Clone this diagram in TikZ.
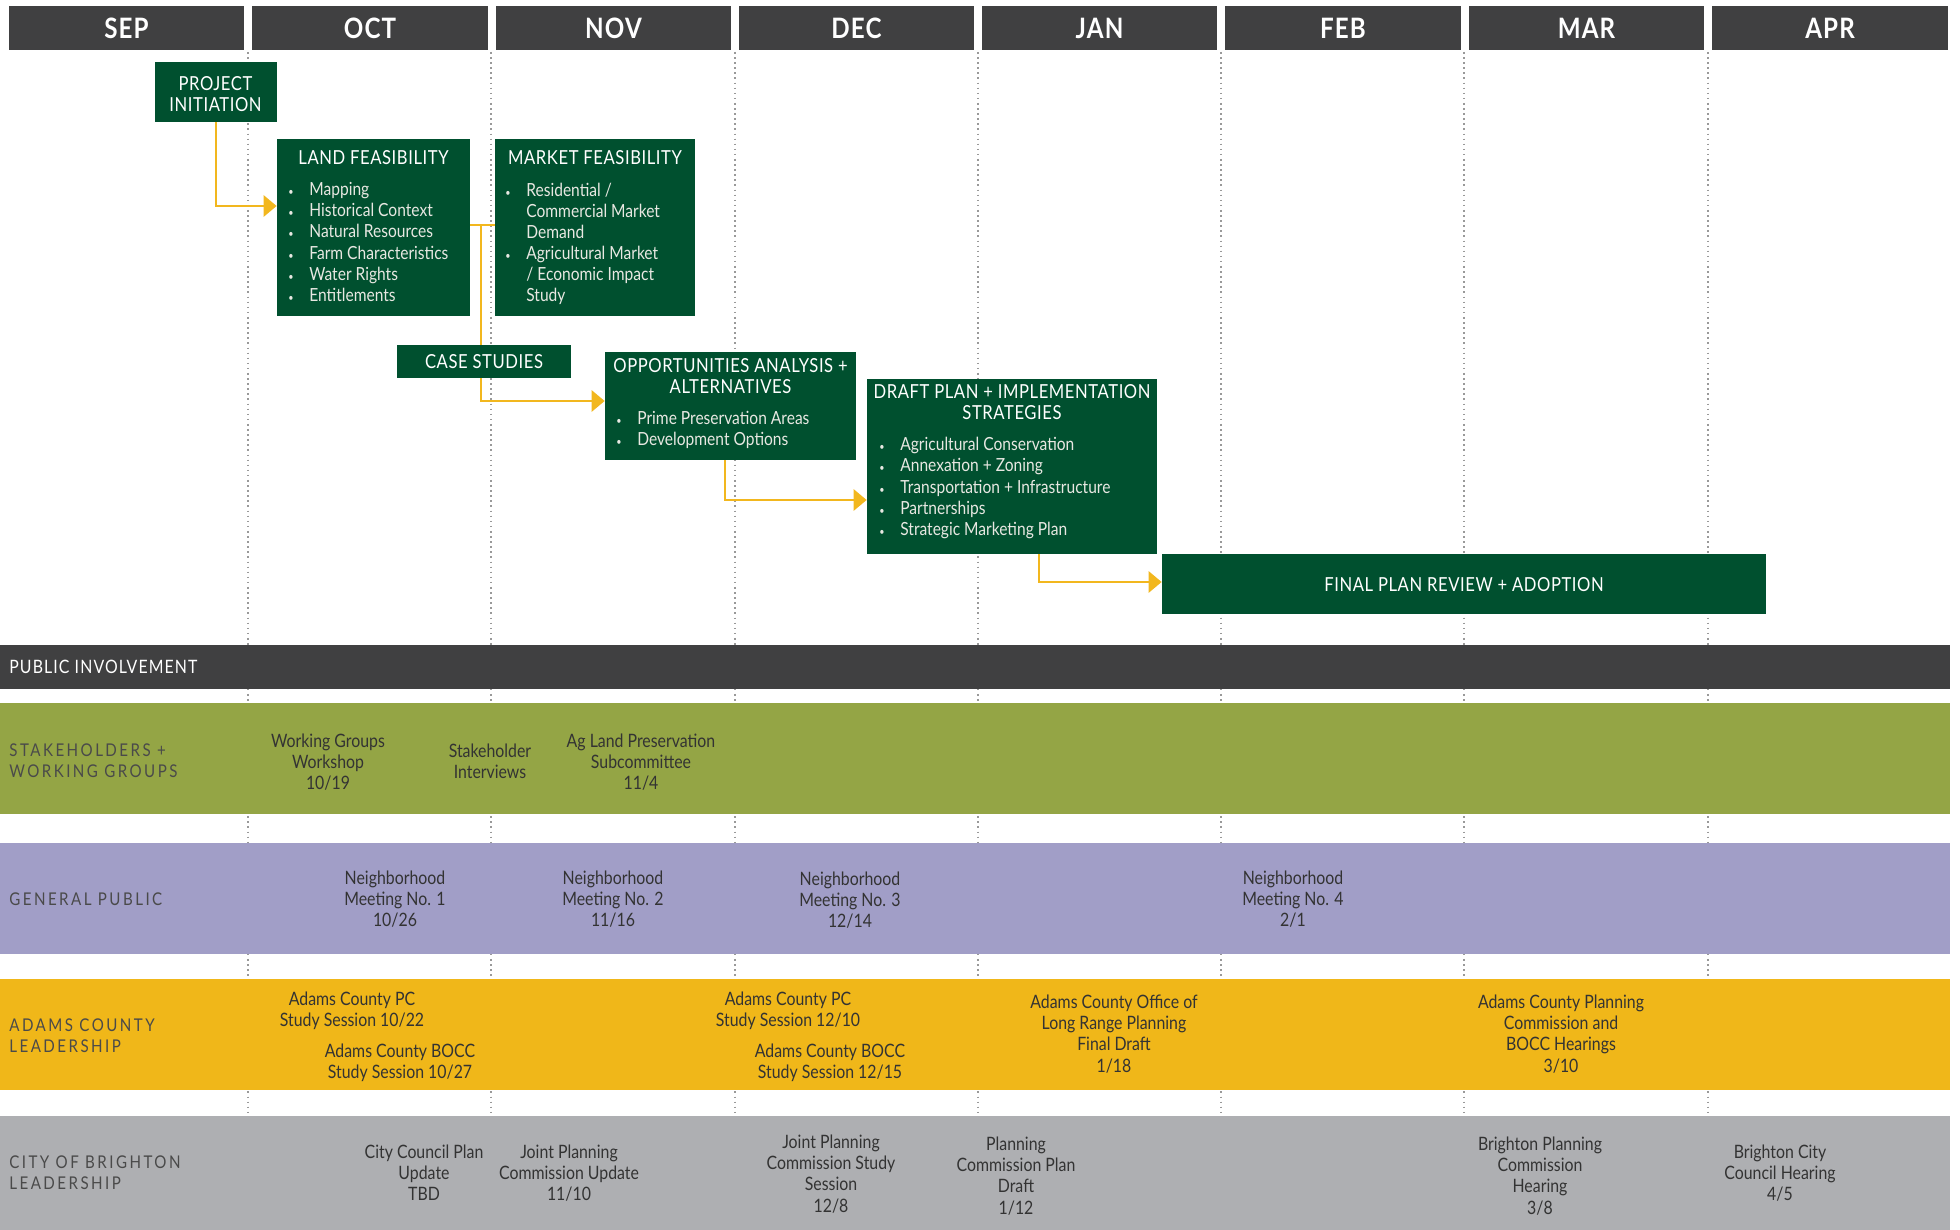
\documentclass[tikz,border=0pt]{standalone}
\usepackage{fontspec}
\setmainfont{Lato}[FakeStretch=0.86]
\usetikzlibrary{arrows.meta,fit}
\definecolor{hdr}{HTML}{404041}
\definecolor{dgreen}{HTML}{00502F}
\definecolor{ayel}{HTML}{F2B71E}
\definecolor{bolive}{HTML}{94A545}
\definecolor{blav}{HTML}{A19EC7}
\definecolor{bgold}{HTML}{F0B719}
\definecolor{bgray}{HTML}{AEAFB2}
\definecolor{boxtxt}{HTML}{E8E8E2}
\definecolor{evtxt}{HTML}{333333}
\definecolor{lbtxt}{HTML}{4A4A4A}
\pgfdeclarelayer{back}
\pgfdeclarelayer{mid}
\pgfsetlayers{back,mid,main}
\newcommand\bul{\makebox[0.42cm][l]{\fontsize{6}{6}\selectfont\textbullet}}
\newcommand\ind{\hspace*{0.42cm}}
\begin{document}
\begin{tikzpicture}[x=0.02cm,y=-0.02cm,
  box/.style={fill=dgreen, inner sep=0pt, draw=none},
  mon/.style={fill=hdr, inner sep=0pt, draw=none},
  montxt/.style={text=white, font=\fontsize{16}{18}\selectfont\bfseries\addfontfeature{LetterSpace=4}, inner sep=0pt},
  ttl/.style={text=white, font=\fontsize{11}{12}\selectfont\addfontfeature{LetterSpace=3}, align=center, inner sep=0pt},
  btxt/.style={text=boxtxt, font=\fontsize{10.3}{12}\selectfont, align=left, inner sep=0pt, anchor=west},
  evt/.style={text=evtxt, font=\fontsize{10.5}{12}\selectfont, align=center, inner sep=0pt},
  lbl/.style={text=lbtxt, font=\fontsize{10}{12}\selectfont\addfontfeature{LetterSpace=14}, align=left, inner sep=0pt, anchor=west},
  pubtxt/.style={text=white, font=\fontsize{10.5}{12}\selectfont\addfontfeature{LetterSpace=6}, inner sep=0pt, anchor=west},
  arr/.style={draw=ayel, line width=1.6pt, -{Triangle[length=0.26cm,width=0.42cm]}},
  con/.style={draw=ayel, line width=1.6pt},
  gridln/.style={draw=gray!80, line width=0.9pt, dotted}
]
\useasboundingbox (0,0) rectangle (1960,1230);
\begin{pgfonlayer}{back}
\fill[white] (0,0) rectangle (1960,1230);
\foreach \x in {248,491,735,978,1221,1464,1708} \draw[gridln] (\x,52) -- (\x,1230);
\end{pgfonlayer}

% month headers
\node[mon, fit={(9,6) (244,50)}] (msep) {};
\node[mon, fit={(252,6) (488,50)}] (moct) {};
\node[mon, fit={(496,6) (731,50)}] (mnov) {};
\node[mon, fit={(739,6) (974,50)}] (mdec) {};
\node[mon, fit={(982,6) (1217,50)}] (mjan) {};
\node[mon, fit={(1225,6) (1461,50)}] (mfeb) {};
\node[mon, fit={(1469,6) (1704,50)}] (mmar) {};
\node[mon, fit={(1712,6) (1948,50)}] (mapr) {};
\node[montxt] (tsep) at (msep) {SEP};
\node[montxt] (toct) at (moct) {OCT};
\node[montxt] (tnov) at (mnov) {NOV};
\node[montxt] (tdec) at (mdec) {DEC};
\node[montxt] (tjan) at (mjan) {JAN};
\node[montxt] (tfeb) at (mfeb) {FEB};
\node[montxt] (tmar) at (mmar) {MAR};
\node[montxt] (tapr) at (mapr) {APR};

% green boxes
\node[box, fit={(155,62) (277,122)}] (pi) {};
\node[box, fit={(277,139) (470,316)}] (land) {};
\node[box, fit={(495,139) (695,316)}] (market) {};
\node[box, fit={(397,345) (571,378)}] (case) {};
\node[box, fit={(605,352) (856,460)}] (opp) {};
\node[box, fit={(867,379) (1157,554)}] (draft) {};
\node[box, fit={(1162,554) (1766,614)}] (final) {};

\node[ttl] (tpi) at (215.5,94) {PROJECT\\INITIATION};
\node[ttl] (tland) at (373.5,158) {LAND FEASIBILITY};
\node[btxt] (lland) at (288,242) {\bul Mapping\\ \bul Historical Context\\ \bul Natural Resources\\ \bul Farm Characteristics\\ \bul Water Rights\\ \bul Entitlements};
\node[ttl] (tmarket) at (595,158) {MARKET FEASIBILITY};
\node[btxt] (lmarket) at (505,244) {\bul Residential /\\ \ind Commercial Market\\ \ind Demand\\ \bul Agricultural Market\\ \ind / Economic Impact\\ \ind Study};
\node[ttl] (tcase) at (484,362) {CASE STUDIES};
\node[ttl] (topp) at (730.5,376) {OPPORTUNITIES ANALYSIS +\\ALTERNATIVES};
\node[btxt] (lopp) at (616,430) {\bul Prime Preservation Areas\\ \bul Development Options};
\node[ttl] (tdraft) at (1012,402) {DRAFT PLAN + IMPLEMENTATION\\STRATEGIES};
\node[btxt] (ldraft) at (879,488) {\bul Agricultural Conservation\\ \bul Annexation + Zoning\\ \bul Transportation + Infrastructure\\ \bul Partnerships\\ \bul Strategic Marketing Plan};
\node[ttl] (tfinal) at (1464,585) {FINAL PLAN REVIEW + ADOPTION};

% connectors
\coordinate (y1) at (0,206);
\coordinate (y2) at (0,225);
\coordinate (split) at (481,225);
\coordinate (y3) at (0,401);
\coordinate (x4) at (725,0);
\coordinate (y4) at (0,500);
\coordinate (x5) at (1039,0);
\coordinate (y5) at (0,582);
\begin{pgfonlayer}{mid}
\draw[arr] (pi.south) |- (land.west |- y1);
\draw[con] (land.east |- y2) -- (market.west |- y2);
\draw[arr] (split) |- (opp.west |- y3);
\draw[arr] (opp.south -| x4) |- (draft.west |- y4);
\draw[arr] (draft.south -| x5) |- (final.west |- y5);
\end{pgfonlayer}

% public involvement
\node[mon, fit={(0,645) (1950,689)}] (pub) {};
\node[pubtxt] (tpub) at (9,667) {PUBLIC INVOLVEMENT};

% bands
\node[fill=bolive, inner sep=0pt, fit={(0,703) (1950,814)}] (bstake) {};
\node[fill=blav, inner sep=0pt, fit={(0,843) (1950,954)}] (bgen) {};
\node[fill=bgold, inner sep=0pt, fit={(0,979) (1950,1090)}] (badams) {};
\node[fill=bgray, inner sep=0pt, fit={(0,1116) (1950,1232)}] (bbright) {};

\node[lbl] (lstake) at (9,760.5) {STAKEHOLDERS +\\WORKING GROUPS};
\node[lbl] (lgen) at (9,899) {GENERAL PUBLIC};
\node[lbl] (ladams) at (9,1035.5) {ADAMS COUNTY\\LEADERSHIP};
\node[lbl] (lbright) at (9,1173) {CITY OF BRIGHTON\\LEADERSHIP};

% events
\node[evt] (s1) at (328,762) {Working Groups\\Workshop\\10/19};
\node[evt] (s2) at (490,761) {Stakeholder\\Interviews};
\node[evt] (s3) at (641,762) {Ag Land Preservation\\Subcommittee\\11/4};

\node[evt] (g1) at (395,899) {Neighborhood\\Meeting No. 1\\10/26};
\node[evt] (g2) at (613,899) {Neighborhood\\Meeting No. 2\\11/16};
\node[evt] (g3) at (850,900) {Neighborhood\\Meeting No. 3\\12/14};
\node[evt] (g4) at (1293,899) {Neighborhood\\Meeting No. 4\\2/1};

\node[evt] (a1) at (352,1011) {Adams County PC\\Study Session 10/22};
\node[evt] (a2) at (400,1063) {Adams County BOCC\\Study Session 10/27};
\node[evt] (a3) at (788,1011) {Adams County PC\\Study Session 12/10};
\node[evt] (a4) at (830,1063) {Adams County BOCC\\Study Session 12/15};
\node[evt] (a5) at (1114,1034) {Adams County Office of\\Long Range Planning\\Final Draft\\1/18};
\node[evt] (a6) at (1561,1034) {Adams County Planning\\Commission and\\BOCC Hearings\\3/10};

\node[evt] (c1) at (424,1173) {City Council Plan\\Update\\TBD};
\node[evt] (c2) at (569,1173) {Joint Planning\\Commission Update\\11/10};
\node[evt] (c3) at (831,1174) {Joint Planning\\Commission Study\\Session\\12/8};
\node[evt] (c4) at (1016,1176) {Planning\\Commission Plan\\Draft\\1/12};
\node[evt] (c5) at (1540,1176) {Brighton Planning\\Commission\\Hearing\\3/8};
\node[evt] (c6) at (1780,1173) {Brighton City\\Council Hearing\\4/5};
\end{tikzpicture}
\end{document}
